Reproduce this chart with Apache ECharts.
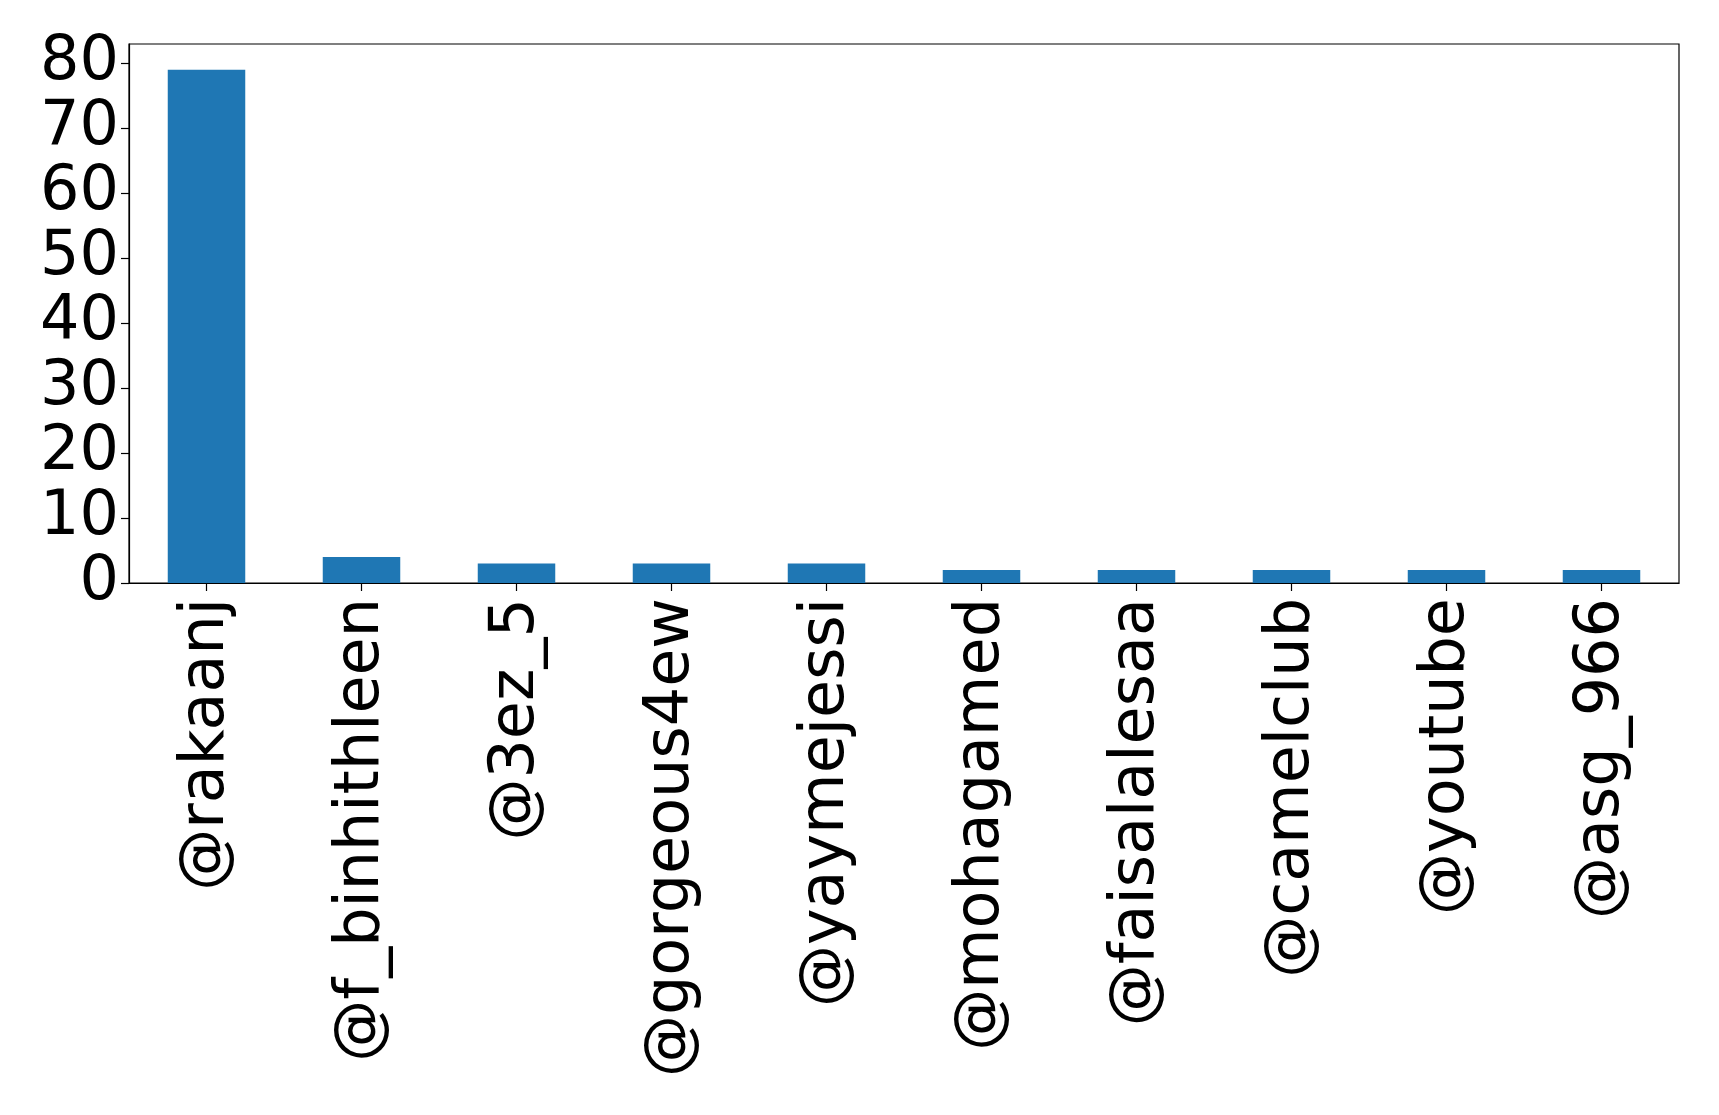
<!DOCTYPE html>
<html>
<head>
<meta charset="utf-8">
<script src="https://cdn.jsdelivr.net/npm/echarts@6/dist/echarts.min.js"></script>
<style>
  html, body { margin: 0; padding: 0; background: #fff; }
  #main { width: 1719px; height: 1115px; }
</style>
</head>
<body>
<div id="main"></div>
<script>
// 账号名
const users = ['@rakaanj', '@f_binhithleen', '@3ez_5', '@gorgeous4ew', '@yaymejessi',
  '@mohagamed', '@faisalalesaa', '@camelclub', '@youtube', '@asg_966'];
// 次数
const counts = [79, 4, 3, 3, 3, 2, 2, 2, 2, 2];
// y 轴刻度
const yTicks = [0, 10, 20, 30, 40, 50, 60, 70, 80];

const myChart = echarts.init(document.getElementById('main'));
const fontFamily = 'DejaVu Sans';

const option = {
  animation: false,
  backgroundColor: '#fff',
  grid: {
    left: 129,
    right: 40,
    top: 44,
    bottom: 532,
    show: true,
    borderColor: '#000',
    borderWidth: 1.2
  },
  xAxis: {
    type: 'category',
    data: users,
    axisLine: { lineStyle: { color: '#000', width: 1.2 } },
    axisTick: { show: true, alignWithLabel: true, length: 8, lineStyle: { color: '#000', width: 1.2 } },
    axisLabel: {
      rotate: 90,
      interval: 0,
      margin: 15,
      color: '#000',
      fontSize: 62,
      fontFamily
    }
  },
  yAxis: {
    type: 'value',
    min: 0,
    max: 82.95,
    interval: 10,
    splitLine: { show: false },
    axisLine: { show: true, lineStyle: { color: '#000', width: 1.2 } },
    axisTick: { show: true, length: 8, customValues: yTicks, lineStyle: { color: '#000', width: 1.2 } },
    axisLabel: {
      customValues: yTicks,
      margin: 10,
      color: '#000',
      fontSize: 62,
      fontFamily
    }
  },
  series: [{
    type: 'bar',
    data: counts,
    barWidth: '50%',
    itemStyle: { color: '#1f77b4' }
  }]
};

myChart.setOption(option);
</script>
</body>
</html>
